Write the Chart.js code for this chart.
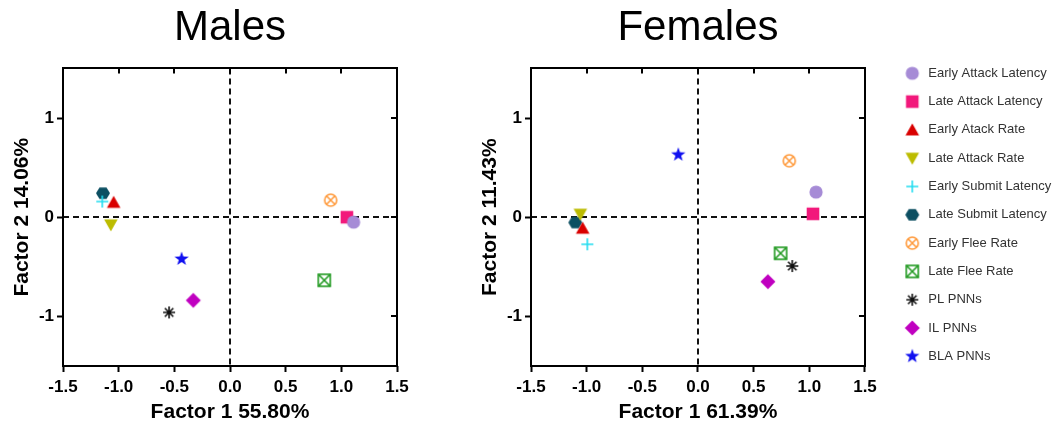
<!DOCTYPE html>
<html>
<head>
<meta charset="utf-8">
<script src="https://cdn.jsdelivr.net/npm/chart.js@4.4.1/dist/chart.umd.min.js"></script>
<style>
  html, body { margin: 0; padding: 0; background: #fff; }
  #wrap { position: relative; width: 1055px; height: 425px; }
  #wrap canvas { position: absolute; top: 0; }
</style>
</head>
<body>
<div id="wrap">
  <canvas id="males" width="440" height="425" style="left:0"></canvas>
  <canvas id="females" width="615" height="425" style="left:440px"></canvas>
</div>
<script>
// loadings
const variables = ['Early Attack Latency', 'Late Attack Latency', 'Early Atack Rate', 'Late Attack Rate',
  'Early Submit Latency', 'Late Submit Latency', 'Early Flee Rate', 'Late Flee Rate',
  'PL PNNs', 'IL PNNs', 'BLA PNNs'];
const malesF1 = [1.11, 1.05, -1.045, -1.07, -1.147, -1.141, 0.904, 0.847, -0.547, -0.33, -0.435];
const malesF2 = [-0.05, 0.0, 0.15, -0.077, 0.158, 0.242, 0.172, -0.636, -0.96, -0.838, -0.421];
const femalesF1 = [1.06, 1.033, -1.036, -1.057, -0.994, -1.102, 0.82, 0.742, 0.847, 0.628, -0.177];
const femalesF2 = [0.253, 0.034, -0.111, 0.03, -0.273, -0.054, 0.569, -0.364, -0.492, -0.65, 0.63];
const xTickValues = [-1.5, -1, -0.5, 0, 0.5, 1, 1.5];
const yTickValues = [-1, 0, 1];

const markerKinds = ['circle', 'square', 'triangle', 'triangleDown', 'plus', 'hexagon',
  'circleX', 'squareX', 'asterisk', 'diamond', 'star'];
const markerColors = ['#a68bd6', '#f2187b', '#d90000', '#bcbc00', '#22ddf0', '#0c4f62',
  '#ff9a3c', '#229a22', '#111111', '#c000c0', '#1010f0'];

const FONT = "'Liberation Sans', Arial, Helvetica, sans-serif";
const PLOT_RIGHT = 424.3;   // right edge of the Females plot inside its canvas
const LEGEND_LEFT = 447.5;

function makeMarker(kind, color) {
  const S = 20, c = S / 2;
  const cv = document.createElement('canvas');
  cv.width = S; cv.height = S;
  const g = cv.getContext('2d');
  g.fillStyle = color;
  g.strokeStyle = color;
  g.lineWidth = 1.6;
  g.beginPath();
  if (kind === 'circle') {
    g.arc(c, c, 6.6, 0, Math.PI * 2); g.fill();
  } else if (kind === 'square') {
    g.fillRect(c - 6.3, c - 6.3, 12.6, 12.6);
  } else if (kind === 'triangle') {
    g.moveTo(c, c - 6.5); g.lineTo(c + 6.8, c + 5.5); g.lineTo(c - 6.8, c + 5.5); g.closePath(); g.fill();
  } else if (kind === 'triangleDown') {
    g.moveTo(c, c + 6.5); g.lineTo(c + 6.8, c - 5.5); g.lineTo(c - 6.8, c - 5.5); g.closePath(); g.fill();
  } else if (kind === 'plus') {
    g.moveTo(c - 6, c); g.lineTo(c + 6, c); g.moveTo(c, c - 6); g.lineTo(c, c + 6); g.stroke();
  } else if (kind === 'hexagon') {
    for (let i = 0; i < 6; i++) {
      const a = i * Math.PI / 3;
      g.lineTo(c + 7 * Math.cos(a), c + 6.6 * Math.sin(a));
    }
    g.closePath(); g.fill();
  } else if (kind === 'circleX') {
    g.arc(c, c, 6, 0, Math.PI * 2); g.stroke();
    g.beginPath();
    const d = 6 * Math.SQRT1_2;
    g.moveTo(c - d, c - d); g.lineTo(c + d, c + d); g.moveTo(c + d, c - d); g.lineTo(c - d, c + d); g.stroke();
  } else if (kind === 'squareX') {
    g.strokeRect(c - 6, c - 6, 12, 12);
    g.beginPath();
    g.moveTo(c - 6, c - 6); g.lineTo(c + 6, c + 6); g.moveTo(c + 6, c - 6); g.lineTo(c - 6, c + 6); g.stroke();
  } else if (kind === 'asterisk') {
    const d = 6 * Math.SQRT1_2;
    g.moveTo(c - 6, c); g.lineTo(c + 6, c); g.moveTo(c, c - 6); g.lineTo(c, c + 6);
    g.moveTo(c - d, c - d); g.lineTo(c + d, c + d); g.moveTo(c + d, c - d); g.lineTo(c - d, c + d); g.stroke();
  } else if (kind === 'diamond') {
    g.moveTo(c, c - 7.5); g.lineTo(c + 7.5, c); g.lineTo(c, c + 7.5); g.lineTo(c - 7.5, c); g.closePath(); g.fill();
  } else if (kind === 'star') {
    for (let i = 0; i < 10; i++) {
      const r = i % 2 === 0 ? 7.5 : 3;
      const a = -Math.PI / 2 + i * Math.PI / 5;
      g.lineTo(c + r * Math.cos(a), c + r * Math.sin(a));
    }
    g.closePath(); g.fill();
  }
  return cv;
}

const markers = markerKinds.map((k, i) => makeMarker(k, markerColors[i]));

// dashed zero lines, box frame and the small inner ticks on top/right
const quadrantFrame = {
  id: 'quadrantFrame',
  beforeDatasetsDraw(chart) {
    const { ctx, chartArea: a, scales: { x, y } } = chart;
    const x0 = Math.round(x.getPixelForValue(0));
    const y0 = Math.round(y.getPixelForValue(0));
    ctx.save();
    ctx.strokeStyle = '#111';
    ctx.lineWidth = 2;
    ctx.setLineDash([6, 4]);
    ctx.beginPath();
    ctx.moveTo(x0, a.top); ctx.lineTo(x0, a.bottom);
    ctx.moveTo(a.left, y0); ctx.lineTo(a.right, y0);
    ctx.stroke();
    ctx.restore();
  },
  afterDraw(chart) {
    const { ctx, chartArea: a, scales: { x, y } } = chart;
    ctx.save();
    ctx.strokeStyle = '#000';
    ctx.lineWidth = 2;
    ctx.strokeRect(Math.round(a.left), Math.round(a.top), Math.round(a.right - a.left), Math.round(a.bottom - a.top));
    ctx.beginPath();
    xTickValues.slice(1, -1).forEach(v => {
      const px = Math.round(x.getPixelForValue(v));
      ctx.moveTo(px, a.top); ctx.lineTo(px, a.top + 5);
    });
    yTickValues.forEach(v => {
      const py = Math.round(y.getPixelForValue(v));
      ctx.moveTo(a.right, py); ctx.lineTo(a.right - 6, py);
    });
    ctx.stroke();
    ctx.restore();
  }
};

function datasetsFor(f1, f2) {
  return variables.map((name, i) => ({
    label: name,
    data: [{ x: f1[i], y: f2[i] }],
    pointStyle: markers[i],
    pointRadius: 7,
    pointHoverRadius: 7,
    backgroundColor: markerColors[i],
    borderColor: markerColors[i]
  }));
}

function makeOptions(title, xTitle, yTitle, withLegend) {
  return {
    responsive: false,
    animation: false,
    devicePixelRatio: 1,
    layout: { padding: withLegend ? { left: 28, right: 0, top: 0, bottom: 0 } : { left: 0, right: 43, top: 0, bottom: 0 } },
    plugins: {
      title: {
        display: true, text: title, fullSize: false, color: '#000',
        font: { family: FONT, size: 42, weight: 'normal', lineHeight: 1.2 },
        padding: { top: 3, bottom: 15 }
      },
      legend: withLegend ? {
        display: true, position: 'right', align: 'center',
        labels: {
          usePointStyle: true, pointStyleWidth: 19, padding: 15.3,
          color: '#333', font: { family: FONT, size: 13 }
        }
      } : { display: false },
      tooltip: { enabled: false }
    },
    scales: {
      x: {
        type: 'linear', min: -1.5, max: 1.5,
        afterBuildTicks: s => { s.ticks = xTickValues.map(v => ({ value: v })); },
        afterFit: s => { s.height = 59; },
        ticks: {
          autoSkip: false, maxRotation: 0, padding: 5, color: '#000',
          font: { family: FONT, size: 17, weight: 'bold' },
          callback: v => v.toFixed(1)
        },
        grid: { drawOnChartArea: false, drawTicks: true, tickLength: 6, tickWidth: 2, tickColor: '#000' },
        border: { display: false },
        title: {
          display: true, text: xTitle, color: '#000',
          font: { family: FONT, size: 21, weight: 'bold', lineHeight: 1.2 },
          padding: { top: 0, bottom: 0 }
        }
      },
      y: {
        type: 'linear', min: -1.5, max: 1.5,
        afterBuildTicks: s => { s.ticks = yTickValues.map(v => ({ value: v })); },
        afterFit: s => { s.width = 63; },
        ticks: {
          padding: 3, color: '#000',
          font: { family: FONT, size: 17, weight: 'bold' },
          callback: v => String(v)
        },
        grid: { drawOnChartArea: false, drawTicks: true, tickLength: 6, tickWidth: 2, tickColor: '#000' },
        border: { display: false },
        title: {
          display: true, text: yTitle, color: '#000',
          font: { family: FONT, size: 21, weight: 'bold', lineHeight: 1.2 },
          padding: { top: 10, bottom: 0 }
        }
      }
    }
  };
}

// put the legend block where the reference has it (and keep its clip box wide enough)
const legendPlace = {
  id: 'legendPlace',
  afterLayout(chart) {
    const lg = chart.legend;
    if (!lg || !lg.options.display) return;
    lg.left = LEGEND_LEFT;
    lg.right = chart.width;
    lg.top = 2.3;
    lg.bottom = chart.height + 2.3;
  }
};

new Chart(document.getElementById('males'), {
  type: 'scatter',
  data: { datasets: datasetsFor(malesF1, malesF2) },
  options: makeOptions('Males', 'Factor 1 55.80%', 'Factor 2 14.06%', false),
  plugins: [quadrantFrame]
});

const females = new Chart(document.getElementById('females'), {
  type: 'scatter',
  data: { datasets: datasetsFor(femalesF1, femalesF2) },
  options: makeOptions('Females', 'Factor 1 61.39%', 'Factor 2 11.43%', true),
  plugins: [quadrantFrame, legendPlace]
});

// nudge the right padding until the plot box ends where the reference's does
for (let i = 0; i < 3; i++) {
  const diff = females.chartArea.right - PLOT_RIGHT;
  if (Math.abs(diff) < 0.5) break;
  females.options.layout.padding.right = Math.max(0, females.options.layout.padding.right + diff);
  females.update();
}
</script>
</body>
</html>
